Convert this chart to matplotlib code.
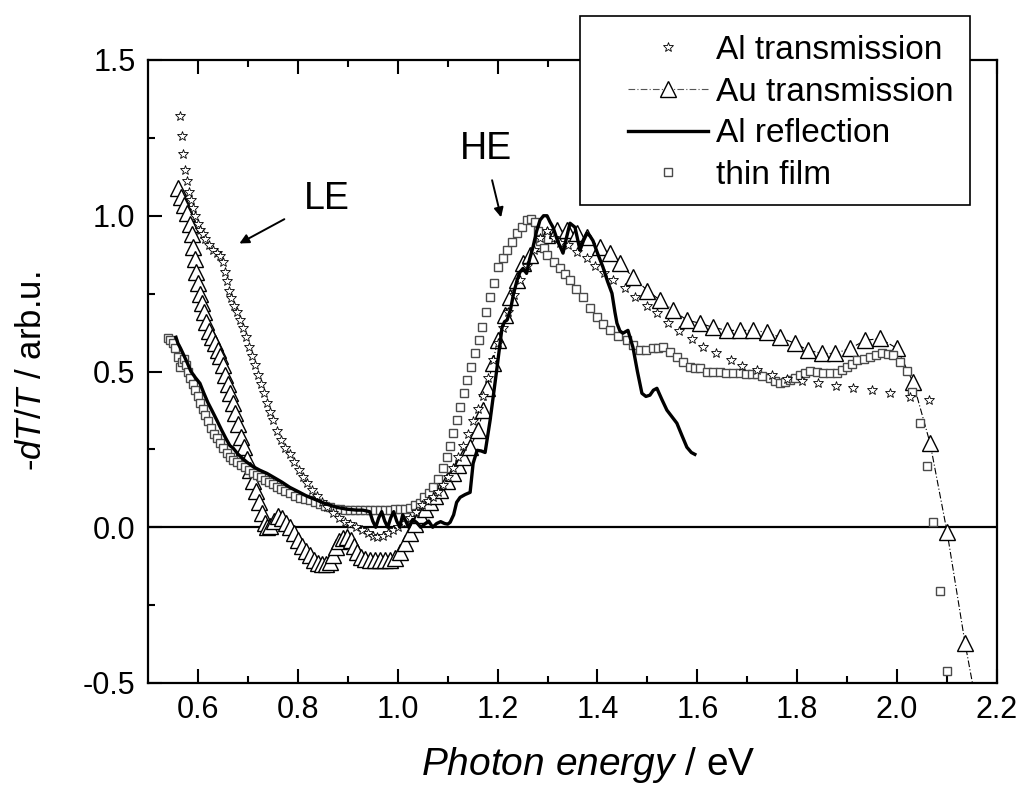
import matplotlib
matplotlib.use("Agg")
import matplotlib.pyplot as plt
from matplotlib.lines import Line2D
from matplotlib.patches import Rectangle

plt.rcParams['font.family'] = ['Liberation Sans', 'DejaVu Sans']
plt.rcParams['mathtext.fontset'] = 'custom'
plt.rcParams['mathtext.rm'] = 'Liberation Sans'
plt.rcParams['mathtext.it'] = 'Liberation Sans:italic'
plt.rcParams['axes.unicode_minus'] = False

# ---------------- data ----------------
al_trans_x = [0.564, 0.568, 0.571, 0.574, 0.578, 0.582, 0.586, 0.590, 0.595, 0.600,
              0.605, 0.610, 0.615, 0.622, 0.630, 0.638, 0.645, 0.650, 0.654, 0.658,
              0.662, 0.666, 0.672, 0.678, 0.684, 0.690, 0.696, 0.702, 0.708, 0.714,
              0.720, 0.726, 0.732, 0.738, 0.744, 0.750, 0.758, 0.766, 0.775, 0.784,
              0.793, 0.802, 0.810, 0.818, 0.828, 0.838, 0.848, 0.858, 0.870, 0.882,
              0.894, 0.904, 0.916, 0.928, 0.940, 0.950, 0.959, 0.970, 0.980, 0.990,
              1.000, 1.012, 1.024, 1.036, 1.048, 1.060, 1.070, 1.080, 1.090, 1.100,
              1.110, 1.120, 1.130, 1.140, 1.150, 1.160, 1.170, 1.180, 1.190, 1.200,
              1.210, 1.220, 1.232, 1.245, 1.258, 1.272, 1.285, 1.298, 1.312, 1.325,
              1.340, 1.359, 1.379, 1.395, 1.413, 1.431, 1.455, 1.475, 1.500, 1.519,
              1.541, 1.563, 1.589, 1.611, 1.637, 1.667, 1.690, 1.720, 1.749, 1.780,
              1.810, 1.842, 1.878, 1.912, 1.950, 1.986, 2.026, 2.064]
al_trans_y = [1.320, 1.255, 1.197, 1.146, 1.110, 1.075, 1.050, 1.025, 1.000, 0.975,
              0.955, 0.940, 0.925, 0.905, 0.890, 0.880, 0.870, 0.850, 0.820, 0.790,
              0.760, 0.735, 0.710, 0.690, 0.665, 0.640, 0.610, 0.580, 0.550, 0.520,
              0.490, 0.460, 0.430, 0.400, 0.370, 0.343, 0.310, 0.280, 0.255, 0.235,
              0.210, 0.185, 0.160, 0.141, 0.120, 0.100, 0.080, 0.064, 0.045, 0.030,
              0.018, 0.010, 0.000, -0.010, -0.020, -0.028, -0.032, -0.028, -0.020, -0.010,
              0.000, 0.015, 0.030, 0.050, 0.070, 0.085, 0.098, 0.112, 0.135, 0.160,
              0.190, 0.225, 0.260, 0.300, 0.340, 0.380, 0.420, 0.480, 0.536, 0.590,
              0.640, 0.690, 0.745, 0.793, 0.840, 0.890, 0.930, 0.950, 0.930, 0.911,
              0.905, 0.883, 0.864, 0.840, 0.815, 0.793, 0.767, 0.738, 0.710, 0.687,
              0.655, 0.630, 0.603, 0.580, 0.558, 0.536, 0.517, 0.504, 0.490, 0.475,
              0.469, 0.462, 0.453, 0.446, 0.440, 0.430, 0.417, 0.408]

au_trans_x = [0.560, 0.566, 0.572, 0.578, 0.584, 0.588, 0.591, 0.594, 0.597, 0.600,
              0.604, 0.608, 0.612, 0.617, 0.622, 0.628, 0.634, 0.640, 0.645, 0.650,
              0.655, 0.660, 0.665, 0.670, 0.675, 0.680, 0.686, 0.692, 0.698, 0.704,
              0.710, 0.716, 0.722, 0.728, 0.734, 0.738, 0.745, 0.752, 0.760, 0.768,
              0.776, 0.784, 0.792, 0.800, 0.808, 0.816, 0.824, 0.832, 0.840, 0.848,
              0.856, 0.864, 0.870, 0.876, 0.882, 0.890, 0.898, 0.906, 0.912, 0.918,
              0.926, 0.935, 0.945, 0.955, 0.965, 0.975, 0.985, 0.995, 1.005, 1.015,
              1.025, 1.035, 1.045, 1.055, 1.065, 1.075, 1.085, 1.098, 1.111, 1.121,
              1.131, 1.145, 1.161, 1.171, 1.179, 1.190, 1.200, 1.215, 1.225, 1.239,
              1.251, 1.265, 1.281, 1.299, 1.319, 1.339, 1.359, 1.379, 1.405, 1.425,
              1.445, 1.471, 1.500, 1.525, 1.551, 1.579, 1.605, 1.631, 1.659, 1.685,
              1.711, 1.739, 1.765, 1.796, 1.822, 1.850, 1.876, 1.906, 1.936, 1.966,
              2.000, 2.032, 2.066, 2.100, 2.136, 2.160]
au_trans_y = [1.088, 1.060, 1.035, 1.010, 0.975, 0.940, 0.900, 0.860, 0.820, 0.785,
              0.750, 0.720, 0.690, 0.660, 0.630, 0.610, 0.590, 0.570, 0.550, 0.520,
              0.490, 0.460, 0.430, 0.400, 0.366, 0.330, 0.290, 0.257, 0.220, 0.183,
              0.150, 0.115, 0.080, 0.045, 0.015, 0.000, 0.005, 0.020, 0.035, 0.030,
              0.015, 0.000, -0.020, -0.040, -0.060, -0.075, -0.090, -0.105, -0.115, -0.118,
              -0.118, -0.110, -0.090, -0.065, -0.045, -0.035, -0.030, -0.040, -0.060, -0.080,
              -0.095, -0.102, -0.105, -0.105, -0.105, -0.105, -0.105, -0.100, -0.080, -0.050,
              -0.020, 0.010, 0.040, 0.060, 0.080, 0.100, 0.119, 0.150, 0.173, 0.200,
              0.225, 0.257, 0.311, 0.376, 0.446, 0.526, 0.600, 0.680, 0.738, 0.793,
              0.847, 0.873, 0.912, 0.937, 0.953, 0.953, 0.944, 0.931, 0.899, 0.880,
              0.847, 0.803, 0.760, 0.729, 0.697, 0.665, 0.655, 0.642, 0.632, 0.632,
              0.632, 0.626, 0.610, 0.590, 0.568, 0.558, 0.558, 0.574, 0.600, 0.606,
              0.574, 0.465, 0.270, -0.015, -0.372, -0.580]

al_refl_x = [0.556, 0.560, 0.565, 0.570, 0.578, 0.586, 0.595, 0.604, 0.612, 0.620,
             0.628, 0.638, 0.648, 0.656, 0.664, 0.670, 0.674, 0.680, 0.690, 0.698,
             0.710, 0.724, 0.738, 0.752, 0.768, 0.784, 0.800, 0.818, 0.838, 0.858,
             0.878, 0.898, 0.918, 0.930, 0.944, 0.950, 0.956, 0.962, 0.968, 0.974,
             0.980, 0.986, 0.992, 0.998, 1.004, 1.010, 1.016, 1.022, 1.030, 1.038,
             1.046, 1.054, 1.062, 1.070, 1.078, 1.086, 1.094, 1.100, 1.105, 1.112,
             1.118, 1.125, 1.135, 1.145, 1.151, 1.159, 1.167, 1.175, 1.185, 1.199,
             1.209, 1.214, 1.219, 1.226, 1.232, 1.239, 1.245, 1.251, 1.258, 1.264,
             1.271, 1.278, 1.285, 1.292, 1.299, 1.305, 1.311, 1.320, 1.331, 1.338,
             1.345, 1.355, 1.365, 1.372, 1.379, 1.385, 1.391, 1.400, 1.411, 1.420,
             1.429, 1.435, 1.439, 1.445, 1.451, 1.461, 1.471, 1.480, 1.489, 1.497,
             1.505, 1.512, 1.519, 1.529, 1.539, 1.549, 1.559, 1.569, 1.579, 1.588,
             1.595]
al_refl_y = [0.610, 0.590, 0.575, 0.558, 0.530, 0.500, 0.480, 0.462, 0.430, 0.400,
             0.375, 0.343, 0.310, 0.285, 0.262, 0.255, 0.247, 0.235, 0.220, 0.209,
             0.195, 0.183, 0.173, 0.160, 0.145, 0.128, 0.115, 0.100, 0.087, 0.074,
             0.064, 0.058, 0.055, 0.055, 0.050, 0.020, 0.000, 0.030, 0.050, 0.020,
             0.000, 0.030, 0.050, 0.020, 0.000, 0.040, 0.020, 0.000, 0.025, 0.015,
             0.000, 0.010, 0.020, 0.000, 0.012, 0.018, 0.012, 0.010, 0.016, 0.040,
             0.080, 0.096, 0.105, 0.112, 0.205, 0.247, 0.245, 0.240, 0.343, 0.514,
             0.642, 0.660, 0.665, 0.700, 0.750, 0.793, 0.820, 0.831, 0.815, 0.860,
             0.900, 0.950, 0.986, 1.000, 1.000, 0.980, 0.963, 0.920, 0.880, 0.930,
             0.976, 0.963, 0.889, 0.920, 0.944, 0.935, 0.920, 0.880, 0.835, 0.790,
             0.751, 0.690, 0.655, 0.630, 0.623, 0.632, 0.578, 0.500, 0.430, 0.420,
             0.424, 0.440, 0.446, 0.410, 0.376, 0.355, 0.334, 0.295, 0.257, 0.240,
             0.234]

film_x = [0.540, 0.545, 0.550, 0.555, 0.560, 0.564, 0.568, 0.572, 0.576, 0.580,
          0.585, 0.590, 0.595, 0.600, 0.605, 0.610, 0.615, 0.620, 0.626, 0.632,
          0.638, 0.644, 0.650, 0.658, 0.664, 0.670, 0.678, 0.686, 0.694, 0.702,
          0.710, 0.718, 0.726, 0.734, 0.742, 0.750, 0.758, 0.766, 0.774, 0.784,
          0.794, 0.804, 0.814, 0.824, 0.834, 0.844, 0.854, 0.864, 0.874, 0.884,
          0.894, 0.904, 0.914, 0.924, 0.934, 0.944, 0.954, 0.964, 0.974, 0.984,
          0.994, 1.004, 1.014, 1.025, 1.035, 1.045, 1.053, 1.062, 1.071, 1.080,
          1.090, 1.099, 1.105, 1.111, 1.118, 1.125, 1.132, 1.139, 1.147, 1.155,
          1.162, 1.169, 1.177, 1.185, 1.193, 1.201, 1.210, 1.219, 1.229, 1.239,
          1.249, 1.259, 1.267, 1.275, 1.280, 1.285, 1.292, 1.299, 1.312, 1.325,
          1.335, 1.345, 1.358, 1.371, 1.385, 1.399, 1.412, 1.425, 1.442, 1.459,
          1.472, 1.485, 1.498, 1.511, 1.521, 1.531, 1.545, 1.559, 1.572, 1.585,
          1.595, 1.605, 1.619, 1.632, 1.645, 1.658, 1.672, 1.685, 1.698, 1.710,
          1.719, 1.730, 1.745, 1.755, 1.765, 1.775, 1.785, 1.795, 1.806, 1.816,
          1.826, 1.839, 1.852, 1.866, 1.880, 1.890, 1.900, 1.910, 1.920, 1.933,
          1.946, 1.958, 1.970, 1.981, 1.992, 2.006, 2.020, 2.030, 2.046, 2.060,
          2.072, 2.086, 2.100]
film_y = [0.607, 0.600, 0.590, 0.575, 0.545, 0.514, 0.530, 0.540, 0.520, 0.500,
          0.480, 0.460, 0.440, 0.420, 0.400, 0.380, 0.360, 0.340, 0.320, 0.300,
          0.285, 0.270, 0.255, 0.238, 0.225, 0.215, 0.208, 0.200, 0.195, 0.185,
          0.175, 0.168, 0.160, 0.153, 0.145, 0.138, 0.130, 0.122, 0.115, 0.109,
          0.100, 0.095, 0.090, 0.087, 0.080, 0.074, 0.068, 0.064, 0.060, 0.058,
          0.056, 0.055, 0.055, 0.055, 0.055, 0.055, 0.055, 0.055, 0.055, 0.056,
          0.057, 0.058, 0.060, 0.062, 0.070, 0.077, 0.096, 0.110, 0.128, 0.155,
          0.190, 0.225, 0.260, 0.302, 0.345, 0.385, 0.430, 0.472, 0.515, 0.558,
          0.600, 0.642, 0.690, 0.738, 0.785, 0.835, 0.865, 0.889, 0.915, 0.944,
          0.965, 0.986, 0.990, 0.979, 0.950, 0.920, 0.895, 0.873, 0.850, 0.831,
          0.812, 0.793, 0.765, 0.738, 0.705, 0.674, 0.652, 0.632, 0.615, 0.600,
          0.585, 0.568, 0.570, 0.574, 0.577, 0.578, 0.562, 0.546, 0.530, 0.514,
          0.510, 0.510, 0.498, 0.498, 0.498, 0.496, 0.494, 0.494, 0.492, 0.491,
          0.491, 0.487, 0.478, 0.470, 0.462, 0.467, 0.472, 0.480, 0.488, 0.495,
          0.501, 0.497, 0.494, 0.494, 0.494, 0.505, 0.514, 0.525, 0.536, 0.541,
          0.546, 0.552, 0.558, 0.556, 0.552, 0.530, 0.501, 0.433, 0.334, 0.196,
          0.016, -0.205, -0.462]

series_labels = ["Al transmission", "Au transmission", "Al reflection", "thin film"]
x_ticks = [0.6, 0.8, 1.0, 1.2, 1.4, 1.6, 1.8, 2.0, 2.2]
y_ticks = [-0.5, 0.0, 0.5, 1.0, 1.5]

# ---------------- figure ----------------
W, H = 1023, 794
fig = plt.figure(figsize=(W / 100, H / 100), dpi=100)
ax = fig.add_axes([148 / W, 1 - 683 / H, (997 - 148) / W, (683 - 60) / H])

ax.axhline(0, color='black', lw=1.6, zorder=1.5)

ax.plot(au_trans_x, au_trans_y, ls=(0, (6, 2, 1, 2)), lw=0.8, color='black',
        marker='^', ms=11, mfc='white', mec='black', mew=1.0, zorder=2)
ax.plot(film_x, film_y, ls='none', marker='s', ms=5.8, mfc='white',
        mec='#4a4a4a', mew=1.0, zorder=3)
ax.plot(al_trans_x, al_trans_y, ls='none', marker='*', ms=7, mfc='white',
        mec='black', mew=0.6, zorder=4)
ax.plot(al_refl_x, al_refl_y, color='black', lw=2.4, zorder=5)

ax.set_xlim(0.5, 2.2)
ax.set_ylim(-0.5, 1.5)
ax.set_xticks(x_ticks)
ax.set_yticks(y_ticks)
ax.set_xticks([0.7, 0.9, 1.1, 1.3, 1.5, 1.7, 1.9, 2.1], minor=True)
ax.set_yticks([-0.25, 0.25, 0.75, 1.25], minor=True)
ax.set_xticklabels([f"{v:.1f}" for v in x_ticks])
ax.set_yticklabels([f"{v:.1f}" for v in y_ticks])
ax.tick_params(which='both', direction='in', top=True, right=False, width=1.5,
               labelsize=22)
ax.tick_params(which='major', length=10)
ax.tick_params(which='minor', length=5)
ax.tick_params(axis='x', pad=9)
ax.tick_params(axis='y', pad=9)
for s in ax.spines.values():
    s.set_linewidth(1.6)

ax.set_xlabel(r"$\mathit{Photon\ energy}$ / eV", fontsize=28)
ax.xaxis.set_label_coords((588 - 148) / 849, -(745 - 683) / 623)
ax.xaxis.label.set_va('top')
ax.set_ylabel(r"-$\mathit{dT/T}$ / arb.u.", fontsize=25)
ax.yaxis.set_label_coords((32 - 148) / 849, 0.5)
ax.yaxis.label.set_va('center')

# annotations
ax.annotate('', xy=(0.683, 0.911), xytext=(0.773, 0.989),
            arrowprops=dict(arrowstyle='-|>', color='black', lw=1.4,
                            mutation_scale=14, shrinkA=0, shrinkB=0))
ax.text(0.858, 1.053, "LE", fontsize=27, ha='center', va='center')
ax.annotate('', xy=(1.207, 0.995), xytext=(1.189, 1.114),
            arrowprops=dict(arrowstyle='-|>', color='black', lw=1.4,
                            mutation_scale=14, shrinkA=0, shrinkB=0))
ax.text(1.177, 1.213, "HE", fontsize=27, ha='center', va='center')

# legend
box = Rectangle((580 / W, 1 - 205 / H), 390 / W, 189 / H, transform=fig.transFigure,
                facecolor='white', edgecolor='black', lw=1.2, zorder=3)
fig.patches.append(box)
handles = [
    Line2D([], [], ls='none', marker='*', ms=7, mfc='white', mec='black', mew=0.6),
    Line2D([], [], ls=(0, (6, 2, 1, 2)), lw=0.8, color='#555555', marker='^', ms=11,
           mfc='white', mec='black', mew=1.0),
    Line2D([], [], color='black', lw=2.4),
    Line2D([], [], ls='none', marker='s', ms=5.8, mfc='white', mec='#4a4a4a', mew=1.0),
]
leg = fig.legend(handles, series_labels, loc='upper left',
                 bbox_to_anchor=(628 / W, 1 - 35 / H), bbox_transform=fig.transFigure,
                 frameon=False, fontsize=24, numpoints=1, borderpad=0, borderaxespad=0,
                 handlelength=2.4, handletextpad=0.25, labelspacing=0.32)
leg.set_zorder(5)

fig.savefig("out.png", dpi=100)
